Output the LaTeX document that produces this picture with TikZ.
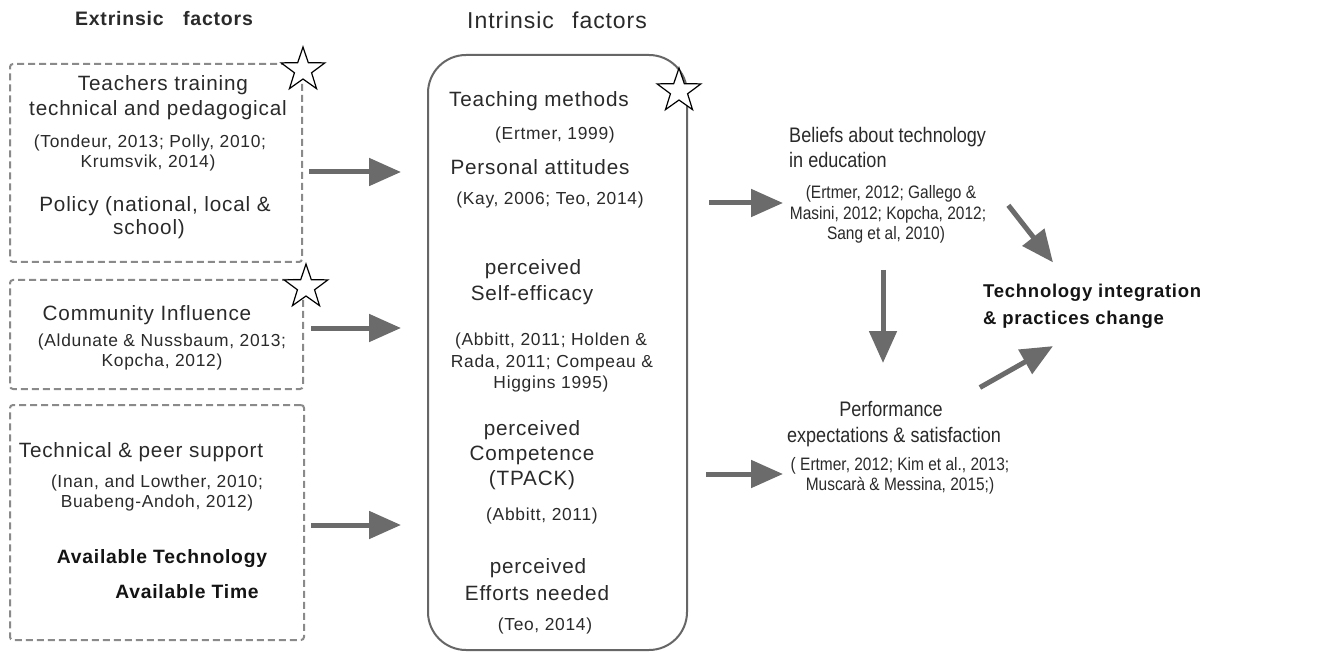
\documentclass[tikz,border=0pt]{standalone}
\usepackage{fontspec}
\setmainfont{Liberation Sans}[LetterSpace=4]
\newfontfamily\condfont{Liberation Sans}[FakeStretch=0.86]
\usetikzlibrary{arrows.meta,shapes.geometric,calc}
\definecolor{txt}{HTML}{2A2A2A}
\definecolor{arrg}{HTML}{6B6B6B}
\definecolor{dashg}{HTML}{8A8A8A}
\definecolor{boxg}{HTML}{666666}
\begin{document}
\begin{tikzpicture}[x=1pt,y=-1pt,
  mt/.style={font=\fontsize{20.7}{24}\selectfont, text=txt, inner sep=0pt, anchor=base},
  ct/.style={font=\fontsize{17.4}{20}\selectfont, text=txt, inner sep=0pt, anchor=base},
  rmt/.style={font=\condfont\fontsize{21}{24}\selectfont, text=txt, inner sep=0pt, anchor=base},
  rct/.style={font=\condfont\fontsize{18}{20}\selectfont, text=txt, inner sep=0pt, anchor=base},
  bt/.style={font=\bfseries\fontsize{19.3}{22}\selectfont, text=black!92, inner sep=0pt, anchor=base},
  ot/.style={font=\bfseries\fontsize{18.5}{22}\selectfont, text=black!92, inner sep=0pt, anchor=base west},
  dbox/.style={draw=dashg, line width=2pt, dash pattern=on 7pt off 4pt, rounded corners=3pt, inner sep=0pt},
  ibox/.style={draw=boxg, line width=2pt, rounded corners=38pt, inner sep=0pt},
  starmark/.style={star, star points=5, star point ratio=2.55, draw=black, fill=white, line width=1.2pt, minimum size=46pt, inner sep=0pt},
  arr/.style={draw=arrg, line width=5pt, -{Triangle[length=32pt,width=27pt]}}
]
\useasboundingbox (0,0) rectangle (1330,652);
\fill[white] (0,0) rectangle (1330,652);

% headings
\node[font=\bfseries\fontsize{19.5}{22}\selectfont, text=txt, inner sep=0pt, anchor=base] (hext) at (164,26) {Extrinsic\hspace{1em}factors};
\node[font=\fontsize{23}{26}\selectfont, text=txt, inner sep=0pt, anchor=base] (hint) at (557,29) {Intrinsic\hspace{0.8em}factors};

% extrinsic boxes
\node[dbox, minimum width=292pt, minimum height=198pt] (box1) at (156,163) {};
\node[dbox, minimum width=293pt, minimum height=109pt] (box2) at (156.5,334.5) {};
\node[dbox, minimum width=294pt, minimum height=235pt] (box3) at (157,522.5) {};

% intrinsic box
\node[ibox, minimum width=259pt, minimum height=595pt] (intr) at (557.5,352.5) {};

% stars
\node[starmark] (st1) at (303,70) {};
\node[starmark] (st2) at (306,287) {};
\node[starmark] (st3) at (679,91) {};

% box 1 text
\node[mt] (t11) at (163,91) {Teachers training};
\node[mt] (t12) at (158,116) {technical and pedagogical};
\node[ct] (t13) at (150,148) {(Tondeur, 2013; Polly, 2010;};
\node[ct] (t14) at (148,168) {Krumsvik, 2014)};
\node[mt] (t15) at (155,212) {Policy (national, local \&};
\node[mt] (t16) at (149,235) {school)};

% box 2 text
\node[mt] (t21) at (147,320) {Community Influence};
\node[ct] (t22) at (162,346) {(Aldunate \& Nussbaum, 2013;};
\node[ct] (t23) at (162,366) {Kopcha, 2012)};

% box 3 text
\node[mt] (t31) at (141,457) {Technical \& peer support};
\node[ct] (t32) at (157,487) {(Inan, and Lowther, 2010;};
\node[ct] (t33) at (157,507) {Buabeng-Andoh, 2012)};
\node[bt] (t34) at (162,563) {Available Technology};
\node[bt] (t35) at (187,598) {Available Time};

% intrinsic text
\node[mt] (i1) at (539,107) {Teaching methods};
\node[ct] (i2) at (555,140) {(Ertmer, 1999)};
\node[mt] (i3) at (540,175) {Personal attitudes};
\node[ct] (i4) at (550,205) {(Kay, 2006; Teo, 2014)};
\node[mt] (i5) at (533,275) {perceived};
\node[mt] (i6) at (532,300) {Self-efficacy};
\node[ct] (i7) at (551,345) {(Abbitt, 2011; Holden \&};
\node[ct] (i8) at (552,367) {Rada, 2011; Compeau \&};
\node[ct] (i9) at (551,388) {Higgins 1995)};
\node[mt] (i10) at (532,435) {perceived};
\node[mt] (i11) at (532,460) {Competence};
\node[mt] (i12) at (532,485) {(TPACK)};
\node[ct] (i13) at (542,520) {(Abbitt, 2011)};
\node[mt] (i14) at (538,573) {perceived};
\node[mt] (i15) at (537,600) {Efforts needed};
\node[ct] (i16) at (545,630) {(Teo, 2014)};

% beliefs
\node[rmt, anchor=base west] (b1) at (789,143) {Beliefs about technology};
\node[rmt, anchor=base west] (b2) at (789,168) {in education};
\node[rct] (b3) at (891,199) {(Ertmer, 2012; Gallego \&};
\node[rct] (b4) at (888,220) {Masini, 2012; Kopcha, 2012;};
\node[rct] (b5) at (886,240) {Sang et al, 2010)};

% outcome
\node[ot] (o1) at (983,298) {Technology integration};
\node[ot] (o2) at (983,324) {\& practices change};

% performance
\node[rmt] (p1) at (891,416) {Performance};
\node[rmt] (p2) at (894,442) {expectations \& satisfaction};
\node[rct] (p3) at (900,470) {( Ertmer, 2012; Kim et al., 2013;};
\node[rct] (p4) at (900,490) {Muscarà \& Messina, 2015;)};

% arrows
\draw[arr] ($(box1.east |- 0,172)+(6,0)$) -- ($(intr.west |- 0,172)+(-26,0)$);
\draw[arr] ($(box2.east |- 0,328)+(7,0)$) -- ($(intr.west |- 0,328)+(-26,0)$);
\draw[arr] ($(box3.east |- 0,525)+(6,0)$) -- ($(intr.west |- 0,525)+(-26,0)$);
\draw[arr] ($(intr.east |- 0,203)+(21,0)$) -- ($(b1.west |- 0,203)+(-6,0)$);
\draw[arr] ($(intr.east |- 0,474)+(18,0)$) -- ($(b1.west |- 0,474)+(-6,0)$);
\draw[arr] ($(b5.base)+(-3,30)$) -- ($(p1.base)+(-8,-53)$);
\draw[arr] ($(b3.east)+(32,11)$) -- ($(o1.north west)+(70,-22)$);
\draw[arr] ($(p1.east)+(37,-21)$) -- ($(o2.south west)+(70,18)$);
\end{tikzpicture}
\end{document}
